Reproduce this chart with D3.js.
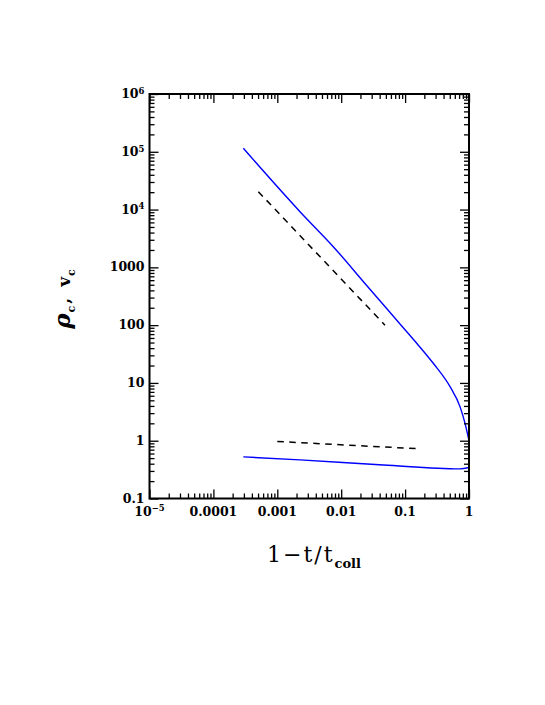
<!DOCTYPE html>
<html>
<head>
<meta charset="utf-8">
<script src="https://cdn.jsdelivr.net/npm/d3@7"></script>
<style>
  body { margin: 0; background: #fff; }
  svg { display: block; }
  .lbl { font-family: "DejaVu Serif", serif; font-weight: bold; font-size: 12.5px; fill: #000; }
</style>
</head>
<body>
<div id="chart"></div>
<script>
// ---------------- data ----------------
const rhoX = [2.94e-4, 2.265e-3, 7.52e-3, 0.02506, 0.0832, 0.152, 0.276, 0.505, 0.723, 0.865, 1.0];
const rhoY = [1.15e5, 9200, 2280, 486, 105, 48.6, 21.9, 8.63, 3.89, 2.01, 1.0];
const velX = [2.94e-4, 2.26e-3, 4.56e-2, 0.723, 1.0];
const velY = [0.525, 0.466, 0.381, 0.325, 0.344];
const rhoSlopeX = [5.05e-4, 0.0484];
const rhoSlopeY = [2.04e4, 100];
const velSlopeX = [0.001, 0.148];
const velSlopeY = [0.97, 0.73];

const xTicks = [1e-5, 1e-4, 1e-3, 1e-2, 0.1, 1];
const xTickLabels = [["10", "\u22125"], ["0.0001", ""], ["0.001", ""], ["0.01", ""], ["0.1", ""], ["1", ""]];
const yTicks = [0.1, 1, 10, 100, 1000, 1e4, 1e5, 1e6];
const yTickLabels = [["0.1", ""], ["1", ""], ["10", ""], ["100", ""], ["1000", ""], ["10", "4"], ["10", "5"], ["10", "6"]];

// ---------------- layout ----------------
const W = 545, H = 705;
const pLeft = 149.5, pRight = 469, pTop = 94, pBottom = 498.5;

const svg = d3.select("#chart").append("svg")
    .attr("width", W)
    .attr("height", H);

const x = d3.scaleLog().domain([1e-5, 1]).range([pLeft, pRight]);
const y = d3.scaleLog().domain([0.1, 1e6]).range([pBottom, pTop]);

// minor ticks 2..9 in every decade
function minors(lo, hi) {
    const out = [];
    for (let e = Math.log10(lo); e < Math.log10(hi); e++) {
        for (let k = 2; k <= 9; k++) out.push(k * Math.pow(10, e));
    }
    return out;
}
const xMinor = minors(1e-5, 1);
const yMinor = minors(0.1, 1e6);

const MAJ = 9, MIN = 5;

// curves go in first so the frame sits on top
const plot = svg.append("g");

function drawAxis(axisFn, scale, values, size, transform) {
    svg.append("g")
        .attr("transform", transform)
        .call(axisFn(scale).tickValues(values).tickSize(size).tickFormat(""))
        .call(g => g.select(".domain").remove())
        .call(g => g.selectAll("line").attr("stroke", "#000").attr("stroke-width", 1.3));
}

// ticks pointing inwards on all four sides
drawAxis(d3.axisBottom, x, xTicks, -MAJ, `translate(0,${pBottom})`);
drawAxis(d3.axisBottom, x, xMinor, -MIN, `translate(0,${pBottom})`);
drawAxis(d3.axisTop, x, xTicks, -MAJ, `translate(0,${pTop})`);
drawAxis(d3.axisTop, x, xMinor, -MIN, `translate(0,${pTop})`);
drawAxis(d3.axisLeft, y, yTicks, -MAJ, `translate(${pLeft},0)`);
drawAxis(d3.axisLeft, y, yMinor, -MIN, `translate(${pLeft},0)`);
drawAxis(d3.axisRight, y, yTicks, -MAJ, `translate(${pRight},0)`);
drawAxis(d3.axisRight, y, yMinor, -MIN, `translate(${pRight},0)`);

// frame
svg.append("rect")
    .attr("x", pLeft).attr("y", pTop)
    .attr("width", pRight - pLeft).attr("height", pBottom - pTop)
    .attr("fill", "none").attr("stroke", "#000").attr("stroke-width", 2);

// tick labels
function addLabel(sel, pair) {
    sel.append("tspan").text(pair[0]);
    if (pair[1]) {
        sel.append("tspan")
            .attr("dy", "-0.5em")
            .style("font-size", "8.5px")
            .text(pair[1]);
    }
}

xTicks.forEach((v, i) => {
    const t = svg.append("text")
        .attr("class", "lbl")
        .attr("x", x(v))
        .attr("y", pBottom + 17)
        .attr("text-anchor", "middle");
    addLabel(t, xTickLabels[i]);
});

yTicks.forEach((v, i) => {
    const t = svg.append("text")
        .attr("class", "lbl")
        .attr("x", pLeft - 5)
        .attr("y", y(v) + 4)
        .attr("text-anchor", "end");
    addLabel(t, yTickLabels[i]);
});

// axis titles
const xt = svg.append("text")
    .attr("x", 314)
    .attr("y", 562)
    .attr("text-anchor", "middle")
    .style("font-family", "'DejaVu Serif', serif")
    .style("font-size", "22px");
xt.append("tspan").style("letter-spacing", "2px").text("1\u2212t/t");
xt.append("tspan").attr("dy", 6).style("font-size", "13px").style("font-weight", "bold").text("coll");

const yt = svg.append("text")
    .attr("transform", "translate(70,299) rotate(-90)")
    .attr("text-anchor", "middle")
    .style("font-family", "'DejaVu Serif', serif")
    .style("font-weight", "bold");
yt.append("tspan").style("font-style", "italic").style("font-size", "23px").text("\u03c1");
yt.append("tspan").attr("dx", 1).attr("dy", 5).style("font-size", "11px").text("c");
yt.append("tspan").attr("dx", 2).attr("dy", -5).style("font-size", "17px").text(",");
yt.append("tspan").attr("dx", 11).style("font-size", "17px").text("v");
yt.append("tspan").attr("dx", 1).attr("dy", 5).style("font-size", "11px").text("c");

// ---------------- curves ----------------
const line = d3.line()
    .x(d => x(d[0]))
    .y(d => y(d[1]))
    .curve(d3.curveMonotoneX);

plot.append("path")
    .datum(d3.zip(rhoX, rhoY))
    .attr("d", line)
    .attr("fill", "none")
    .attr("stroke", "#0000ff")
    .attr("stroke-width", 1.4);

plot.append("path")
    .datum(d3.zip(velX, velY))
    .attr("d", line)
    .attr("fill", "none")
    .attr("stroke", "#0000ff")
    .attr("stroke-width", 1.4);

[[rhoSlopeX, rhoSlopeY], [velSlopeX, velSlopeY]].forEach(([xs, ys]) => {
    plot.append("path")
        .datum(d3.zip(xs, ys))
        .attr("d", d3.line().x(d => x(d[0])).y(d => y(d[1])))
        .attr("fill", "none")
        .attr("stroke", "#000")
        .attr("stroke-width", 1.5)
        .attr("stroke-dasharray", "6.5,5.5");
});
</script>
</body>
</html>
